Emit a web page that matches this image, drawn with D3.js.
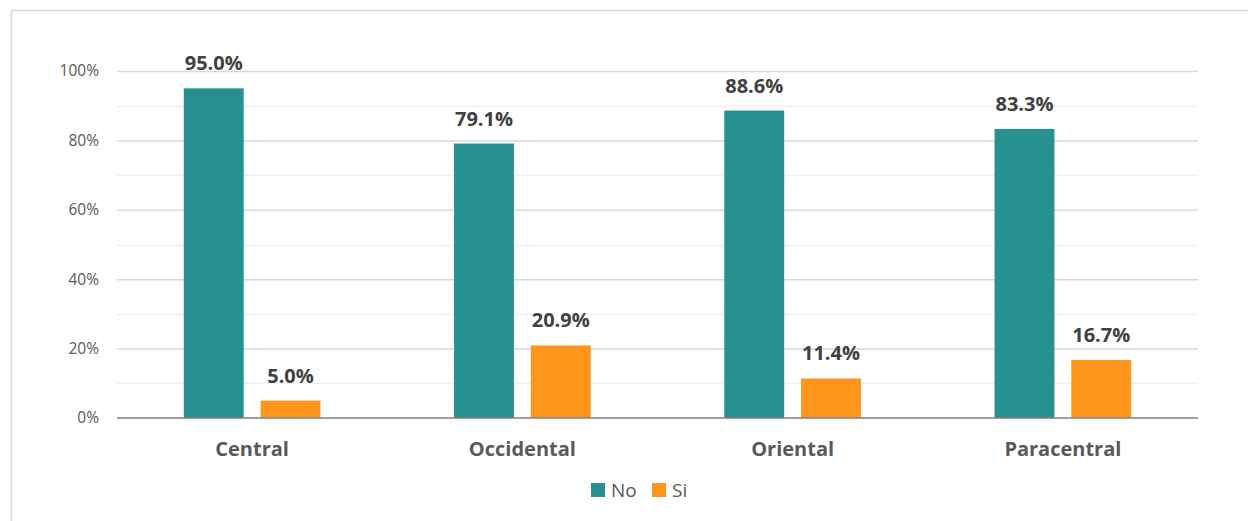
<!DOCTYPE html>
<html>
<head>
<meta charset="utf-8">
<script src="https://cdn.jsdelivr.net/npm/d3@7"></script>
<style>
  body { margin: 0; background: #fff; }
  text { font-family: "Open Sans", sans-serif; }
</style>
</head>
<body>
<svg id="chart"></svg>
<script>
const width = 1248;
const height = 521;

const categories = ["Central", "Occidental", "Oriental", "Paracentral"];
const seriesNames = ["No", "Si"];
const noValues = [95.0, 79.1, 88.6, 83.3];
const siValues = [5.0, 20.9, 11.4, 16.7];
const yTicks = [0, 20, 40, 60, 80, 100];
const minorTicks = [10, 30, 50, 70, 90];

const colors = { No: "#279191", Si: "#FF961C" };

const margin = { top: 71, right: 50, bottom: 103, left: 117 };

const svg = d3.select("#chart")
    .attr("width", width)
    .attr("height", height);

// outer frame
svg.append("path")
    .attr("d", `M11.5,${height} L11.5,10.5 L${width},10.5`)
    .attr("fill", "none")
    .attr("stroke", "#d9d9d9")
    .attr("stroke-width", 1.5);

const x = d3.scaleBand()
    .domain(categories)
    .range([margin.left, width - margin.right]);

const xSub = d3.scaleBand()
    .domain(seriesNames)
    .range([0, x.bandwidth()])
    .paddingInner(0.22)
    .paddingOuter(0.87);

const y = d3.scaleLinear()
    .domain([0, 100])
    .range([height - margin.bottom, margin.top]);

// minor gridlines
svg.append("g")
    .selectAll("line")
    .data(minorTicks)
    .join("line")
    .attr("x1", margin.left)
    .attr("x2", width - margin.right)
    .attr("y1", d => Math.round(y(d)) + 0.5)
    .attr("y2", d => Math.round(y(d)) + 0.5)
    .attr("stroke", "#f0f0f0")
    .attr("stroke-width", 1.5);

// major gridlines + labels
const yAxis = svg.append("g")
    .attr("transform", `translate(${margin.left},0)`)
    .call(d3.axisLeft(y).tickValues(yTicks).tickFormat(d => d + "%")
        .tickSize(-(width - margin.left - margin.right)).tickPadding(18));
yAxis.select(".domain").remove();
yAxis.selectAll(".tick line")
    .attr("stroke", d => d === 0 ? "none" : "#d9d9d9")
    .attr("stroke-width", 1.5);
yAxis.selectAll(".tick text")
    .attr("fill", "#595959")
    .style("font-size", "15.5px");

const data = categories.map((c, i) => ({ cat: c, No: noValues[i], Si: siValues[i] }));

const groups = svg.append("g")
    .selectAll("g")
    .data(data)
    .join("g")
    .attr("transform", d => `translate(${x(d.cat)},0)`);

const bars = groups.selectAll("g.bar")
    .data(d => seriesNames.map(s => ({ key: s, value: d[s] })))
    .join("g")
    .attr("class", "bar");

bars.append("rect")
    .attr("x", d => xSub(d.key))
    .attr("width", xSub.bandwidth())
    .attr("y", d => y(d.value))
    .attr("height", d => y(0) - y(d.value))
    .attr("fill", d => colors[d.key]);

bars.append("text")
    .attr("x", d => xSub(d.key) + xSub.bandwidth() / 2)
    .attr("y", d => y(d.value) - 18)
    .attr("text-anchor", "middle")
    .attr("fill", "#404040")
    .style("font-size", "20px")
    .style("font-weight", "bold")
    .text(d => d.value.toFixed(1) + "%");

// baseline
svg.append("line")
    .attr("x1", margin.left)
    .attr("x2", width - margin.right)
    .attr("y1", y(0))
    .attr("y2", y(0))
    .attr("stroke", "#7f7f7f")
    .attr("stroke-width", 1.5);

// category labels
svg.append("g")
    .selectAll("text")
    .data(categories)
    .join("text")
    .attr("x", d => x(d) + x.bandwidth() / 2)
    .attr("y", y(0) + 38)
    .attr("text-anchor", "middle")
    .attr("fill", "#595959")
    .style("font-size", "20px")
    .style("font-weight", "bold")
    .text(d => d);

// legend
const legend = svg.append("g")
    .attr("transform", "translate(591,483)");
const legendX = [0, 61];
seriesNames.forEach((s, i) => {
    legend.append("rect")
        .attr("x", legendX[i])
        .attr("y", 0)
        .attr("width", 14)
        .attr("height", 14)
        .attr("fill", colors[s]);
    legend.append("text")
        .attr("x", legendX[i] + 20)
        .attr("y", 14)
        .attr("fill", "#595959")
        .style("font-size", "19px")
        .text(s);
});
</script>
</body>
</html>
